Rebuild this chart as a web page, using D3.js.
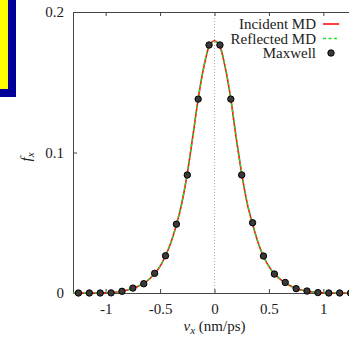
<!DOCTYPE html>
<html>
<head>
<meta charset="utf-8">
<script src="https://cdn.jsdelivr.net/npm/d3@7"></script>
<style>
  body { margin: 0; background: #fff; }
  svg { display: block; font-family: "Liberation Serif", "DejaVu Serif", serif; }
</style>
</head>
<body>
<div id="chart"></div>
<script>
// velocity grid of the MD curves (nm/ps)
const curveV = [-1.3, -1.25, -1.2, -1.15, -1.1, -1.05, -1.0, -0.95, -0.9, -0.85, -0.8, -0.75, -0.7,
  -0.65, -0.6, -0.55, -0.5, -0.45, -0.4, -0.35, -0.3, -0.25, -0.2, -0.15, -0.1, -0.05, 0,
  0.05, 0.1, 0.15, 0.2, 0.25, 0.3, 0.35, 0.4, 0.45, 0.5, 0.55, 0.6, 0.65, 0.7, 0.75, 0.8,
  0.85, 0.9, 0.95, 1.0, 1.05, 1.1, 1.15, 1.2, 1.25, 1.3];
const incident = [0, 0, 0, 0, 0, 0, 0.0001, 0.0003, 0.0007, 0.0013, 0.0021, 0.0033, 0.0048,
  0.0068, 0.0098, 0.0138, 0.019, 0.0265, 0.036, 0.0485, 0.064, 0.085, 0.111, 0.138, 0.160, 0.1755, 0.1795,
  0.1755, 0.160, 0.138, 0.110, 0.085, 0.064, 0.0490, 0.036, 0.026, 0.019, 0.0136, 0.0100, 0.0072, 0.0050, 0.0032, 0.0021,
  0.0013, 0.0007, 0.0003, 0.0001, 0, 0, 0, 0, 0, 0];
const reflected = [0, 0, 0, 0, 0, 0, 0.0001, 0.0003, 0.0007, 0.0013, 0.0021, 0.0034, 0.0049,
  0.0069, 0.0099, 0.0139, 0.0192, 0.0267, 0.0362, 0.0488, 0.0645, 0.0855, 0.1115, 0.1385, 0.1605, 0.1755, 0.179,
  0.1755, 0.1605, 0.1385, 0.1105, 0.0855, 0.0645, 0.0492, 0.0362, 0.0262, 0.0191, 0.0137, 0.0101, 0.0073, 0.0051, 0.0033, 0.0021,
  0.0013, 0.0007, 0.0003, 0.0001, 0, 0, 0, 0, 0, 0];

// Maxwell reference points
const maxwellV = [-1.25, -1.15, -1.05, -0.95, -0.85, -0.75, -0.65, -0.55, -0.45, -0.35, -0.25, -0.15, -0.05,
  0.05, 0.15, 0.25, 0.35, 0.45, 0.55, 0.65, 0.75, 0.85, 0.95, 1.05, 1.15, 1.25];
const maxwellF = [0, 0, 0, 0.0001, 0.0012, 0.0035, 0.0066, 0.014, 0.0265, 0.049, 0.084, 0.138, 0.1765,
  0.1765, 0.138, 0.084, 0.050, 0.0263, 0.0135, 0.0075, 0.0031, 0.0014, 0.0003, 0, 0, 0];

const xTicks = [-1, -0.5, 0, 0.5, 1];
const yTicks = [0, 0.1, 0.2];
const legendLabels = ["Incident MD", "Reflected MD", "Maxwell"];

const W = 349, H = 341;
const margin = { top: 12, left: 73, bottom: 48 };
const plotRight = 356;

const svg = d3.select("#chart").append("svg")
  .attr("width", W)
  .attr("height", H);

// yellow box in the corner
svg.append("rect").attr("x", -10).attr("y", -10).attr("width", 26).attr("height", 107).attr("fill", "#000099");
svg.append("rect").attr("x", -10).attr("y", -10).attr("width", 18).attr("height", 99).attr("fill", "#ffff00");

const x = d3.scaleLinear().domain([-1.3, 1.3]).range([margin.left, plotRight]);
const y = d3.scaleLinear().domain([0, 0.2]).range([H - margin.bottom, margin.top]);

const textColor = "#222";
const frameColor = "#444";

// zero line
svg.append("line")
  .attr("x1", x(0)).attr("x2", x(0))
  .attr("y1", y(0.2)).attr("y2", y(0))
  .attr("stroke", "#aaa")
  .attr("stroke-width", 1)
  .attr("stroke-dasharray", "1,2");

// axes (ticks pointing inwards)
svg.append("g")
  .attr("transform", `translate(0,${y(0)})`)
  .call(d3.axisBottom(x).tickValues(xTicks).tickSizeInner(-4).tickSizeOuter(0).tickPadding(10)
    .tickFormat(d => d === 0 ? "0" : String(d).replace("-", "-")))
  .call(g => g.select(".domain").attr("stroke", frameColor))
  .call(g => g.selectAll(".tick line").attr("stroke", frameColor))
  .call(g => g.selectAll(".tick text").attr("fill", textColor).style("font-size", "15px")
    .style("font-family", "Liberation Serif"));

svg.append("g")
  .attr("transform", `translate(0,${y(0.2)})`)
  .call(d3.axisTop(x).tickValues(xTicks).tickSizeInner(-4).tickSizeOuter(0).tickFormat(""))
  .call(g => g.select(".domain").attr("stroke", frameColor))
  .call(g => g.selectAll(".tick line").attr("stroke", frameColor));

svg.append("g")
  .attr("transform", `translate(${margin.left},0)`)
  .call(d3.axisLeft(y).tickValues(yTicks).tickSizeInner(-4).tickSizeOuter(0).tickPadding(9)
    .tickFormat(d => d === 0 ? "0" : d3.format(".1f")(d)))
  .call(g => g.select(".domain").attr("stroke", frameColor))
  .call(g => g.selectAll(".tick line").attr("stroke", frameColor))
  .call(g => g.selectAll(".tick text").attr("fill", textColor).style("font-size", "15px")
    .style("font-family", "Liberation Serif"));

// MD curves
const line = d3.line()
  .x(d => x(d[0]))
  .y(d => y(d[1]))
  .curve(d3.curveMonotoneX);

svg.append("path")
  .datum(curveV.map((v, i) => [v, incident[i]]))
  .attr("fill", "none")
  .attr("stroke", "#ff1010")
  .attr("stroke-width", 1.6)
  .attr("d", line);

svg.append("path")
  .datum(curveV.map((v, i) => [v, reflected[i]]))
  .attr("fill", "none")
  .attr("stroke", "#22dd22")
  .attr("stroke-width", 1.4)
  .attr("stroke-dasharray", "3,2.5")
  .attr("d", line);

// Maxwell points
svg.selectAll(".maxwell")
  .data(maxwellV.map((v, i) => [v, maxwellF[i]]))
  .enter()
  .append("circle")
  .attr("class", "maxwell")
  .attr("cx", d => x(d[0]))
  .attr("cy", d => y(d[1]))
  .attr("r", 3.2)
  .attr("fill", "#3a3a3a")
  .attr("stroke", "#000")
  .attr("stroke-width", 1);

// legend
const legend = svg.append("g");
legendLabels.forEach((label, i) => {
  const ly = 24 + i * 14.5;
  legend.append("text")
    .attr("x", 316)
    .attr("y", ly)
    .attr("dy", "0.35em")
    .attr("text-anchor", "end")
    .attr("fill", textColor)
    .style("font-size", "15px")
    .text(label);
  if (i === 0) {
    legend.append("line").attr("x1", 323).attr("x2", 339).attr("y1", ly).attr("y2", ly)
      .attr("stroke", "#ff1010").attr("stroke-width", 1.6);
  } else if (i === 1) {
    legend.append("line").attr("x1", 323).attr("x2", 339).attr("y1", ly).attr("y2", ly)
      .attr("stroke", "#22dd22").attr("stroke-width", 1.4).attr("stroke-dasharray", "3,2.5");
  } else {
    legend.append("circle").attr("cx", 331).attr("cy", ly).attr("r", 3.2)
      .attr("fill", "#3a3a3a").attr("stroke", "#000");
  }
});

// axis titles
const xt = svg.append("text")
  .attr("x", x(0))
  .attr("y", 331)
  .attr("text-anchor", "middle")
  .attr("fill", textColor)
  .style("font-size", "15px");
xt.append("tspan").style("font-style", "italic").text("v");
xt.append("tspan").style("font-style", "italic").style("font-size", "11px").attr("dy", 3).text("x");
xt.append("tspan").attr("dy", -3).text(" (nm/ps)");

const yt = svg.append("text")
  .attr("transform", "translate(31,157) rotate(-90)")
  .attr("text-anchor", "middle")
  .attr("fill", textColor)
  .style("font-size", "15px");
yt.append("tspan").style("font-style", "italic").text("f");
yt.append("tspan").style("font-style", "italic").style("font-size", "11px").attr("dy", 3).text("x");
</script>
</body>
</html>
